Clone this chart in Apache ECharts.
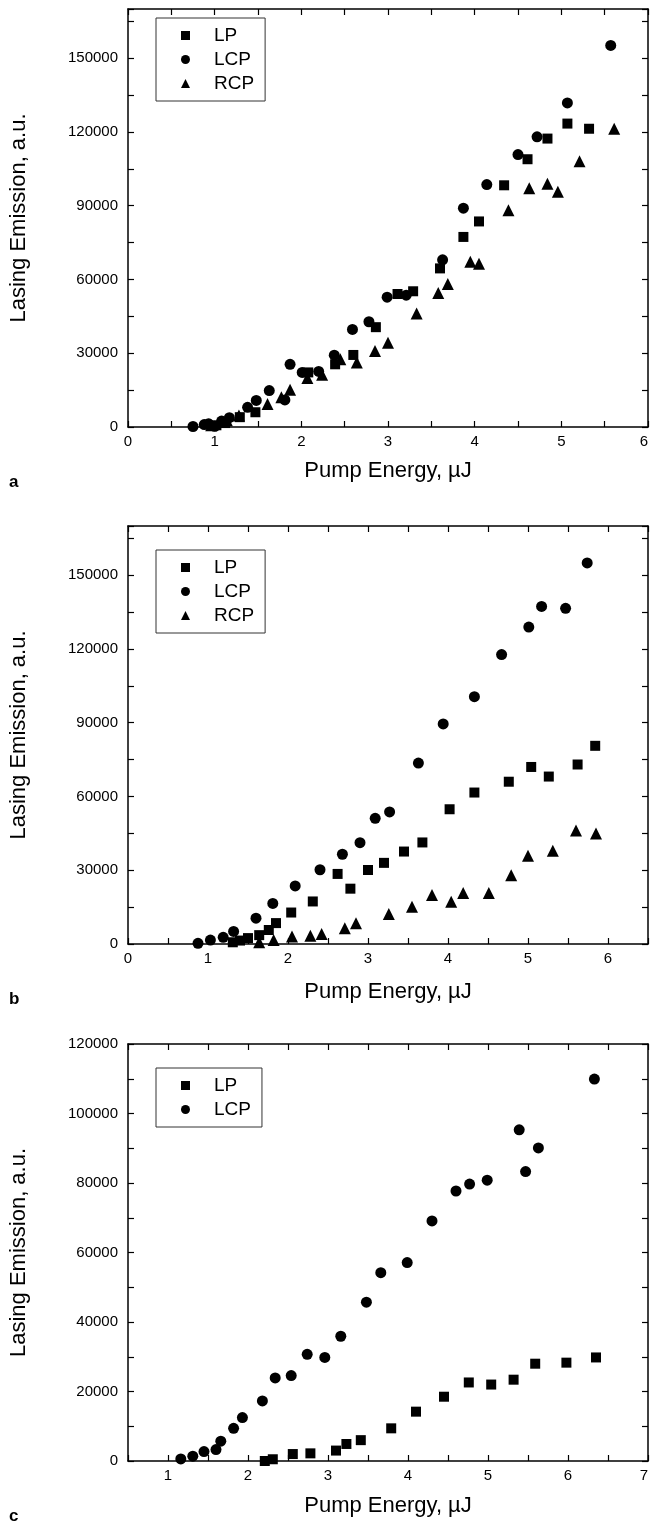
<!DOCTYPE html>
<html><head><meta charset="utf-8">
<script src="https://cdn.jsdelivr.net/npm/echarts@6/dist/echarts.min.js"></script>
<style>html,body{margin:0;padding:0;background:#fff}#c{width:651px;height:1524px}</style>
</head><body><div id="c"></div>
<script>
// ---- data (x = pump energy µJ, y = lasing emission a.u.) ----
const aLP = [[1.02,700],[1.12,1600],[1.29,4000],[1.47,6000],[2.08,22200],[2.39,25500],[2.60,29300],[2.86,40600],[3.11,54100],[3.29,55200],[3.60,64500],[3.87,77300],[4.05,83600],[4.34,98300],[4.61,108900],[4.84,117300],[5.07,123400],[5.32,121300]];
const aLCP = [[0.75,200],[0.88,1000],[0.93,1300],[1.00,300],[1.08,2400],[1.17,3800],[1.38,8000],[1.48,10800],[1.63,14800],[1.81,11000],[1.87,25500],[2.01,22200],[2.20,22600],[2.38,29200],[2.59,39700],[2.78,42800],[2.99,52800],[3.21,53600],[3.63,68000],[3.87,89000],[4.14,98600],[4.50,110800],[4.72,118000],[5.07,131800],[5.57,155200]];
const aRCP = [[0.96,700],[1.14,2700],[1.28,4700],[1.61,9400],[1.77,12100],[1.87,15100],[2.07,19900],[2.24,21200],[2.45,27600],[2.64,26200],[2.85,30900],[3.00,34300],[3.33,46200],[3.58,54500],[3.69,58200],[3.95,67200],[4.05,66400],[4.39,88200],[4.63,97100],[4.84,98900],[4.96,95700],[5.21,108100],[5.61,121300]];

const bLP = [[1.31,700],[1.40,1400],[1.50,2400],[1.64,3600],[1.76,5700],[1.85,8500],[2.04,12800],[2.31,17300],[2.62,28500],[2.78,22500],[3.00,30100],[3.20,33000],[3.45,37600],[3.68,41300],[4.02,54800],[4.33,61600],[4.76,66000],[5.04,72000],[5.26,68100],[5.62,73000],[5.84,80600]];
const bLCP = [[0.875,270],[1.03,1600],[1.19,2700],[1.32,5100],[1.60,10500],[1.81,16500],[2.09,23600],[2.40,30200],[2.68,36500],[2.90,41200],[3.09,51100],[3.27,53700],[3.63,73600],[3.94,89500],[4.33,100600],[4.67,117700],[5.01,128900],[5.17,137300],[5.47,136500],[5.74,155000]];
const bRCP = [[1.64,700],[1.82,1600],[2.05,3000],[2.28,3400],[2.42,4100],[2.71,6400],[2.85,8400],[3.26,12200],[3.55,15100],[3.80,19900],[4.04,17200],[4.19,20700],[4.51,20700],[4.79,28000],[5.00,35900],[5.31,37900],[5.60,46200],[5.85,44900]];

const cLP = [[2.21,0],[2.31,500],[2.56,2000],[2.78,2200],[3.10,3000],[3.23,4900],[3.41,6000],[3.79,9400],[4.10,14200],[4.45,18500],[4.76,22600],[5.04,22000],[5.32,23400],[5.59,28000],[5.98,28300],[6.35,29800]];
const cLCP = [[1.16,600],[1.31,1400],[1.45,2700],[1.60,3300],[1.66,5700],[1.82,9400],[1.93,12500],[2.18,17300],[2.34,23900],[2.54,24600],[2.74,30700],[2.96,29800],[3.16,35900],[3.48,45700],[3.66,54200],[3.99,57100],[4.30,69100],[4.60,77700],[4.77,79700],[4.99,80800],[5.39,95300],[5.47,83300],[5.63,90100],[6.33,109900]];

const panelLetters = ['a','b','c'];
const xTitle = 'Pump Energy, \u00b5J';
const yTitle = 'Lasing Emission, a.u.';
const seriesNames = ['LP','LCP','RCP'];
// axis ranges / ticks per panel: [min, max, tick step, label step]
const xRanges = [[0,6,0.5,1],[0,6.5,0.5,1],[0.5,7,0.5,1]];
const yRanges = [[0,170000,15000,30000],[0,170000,15000,30000],[0,120000,10000,20000]];

const FONT = '"Liberation Sans", Arial, Helvetica, sans-serif';
const symbols = {LP:'rect', LCP:'circle', RCP:'triangle'};
const symSize = {LP:10, LCP:11, RCP:12};

const grids = [
  {left:128, width:521, top:9, height:418},
  {left:128, width:521, top:526, height:418},
  {left:128, width:521, top:1044, height:417}
];
const legendTop = [18, 550, 1068];
const xNameGap = [33, 37, 34];

const xAxes = [], yAxes = [], series = [], legends = [], titles = [];
const isMult = (v, m) => Math.abs(v/m - Math.round(v/m)) < 1e-6;
const axisLine = {onZero:false, lineStyle:{color:'#000', width:1.5}};
const tick = {inside:true, length:6, lineStyle:{color:'#000',width:1.2}};

grids.forEach((g, i) => {
  const [xmin,xmax,xint,xlab] = xRanges[i];
  const [ymin,ymax,yint,ylab] = yRanges[i];
  xAxes.push({gridIndex:i, type:'value', position:'bottom', min:xmin, max:xmax, interval:xint,
    axisLine, axisTick:tick, splitLine:{show:false},
    axisLabel:{color:'#000', fontSize:15, fontFamily:FONT, margin:7, alignMaxLabel: i===1?null:'right',
      formatter:v => isMult(v,xlab) ? String(Math.round(v)) : ''},
    name:xTitle, nameLocation:'middle', nameGap:xNameGap[i],
    nameTextStyle:{color:'#000', fontSize:22, fontFamily:FONT}
  });
  xAxes.push({gridIndex:i, type:'value', position:'top', min:xmin, max:xmax, interval:xint,
    axisLine, axisTick:tick, splitLine:{show:false}, axisLabel:{show:false}});
  yAxes.push({gridIndex:i, type:'value', position:'left', min:ymin, max:ymax, interval:yint,
    axisLine, axisTick:tick, splitLine:{show:false},
    axisLabel:{color:'#000', fontSize:15, fontFamily:FONT, margin:10,
      formatter:v => isMult(v,ylab) ? String(v) : ''},
    name:yTitle, nameLocation:'middle', nameRotate:90, nameGap:98,
    nameTextStyle:{color:'#000', fontSize:22, fontFamily:FONT}
  });
  yAxes.push({gridIndex:i, type:'value', position:'right', min:ymin, max:ymax, interval:yint,
    axisLine, axisTick:tick, splitLine:{show:false}, axisLabel:{show:false}});
  titles.push({text:panelLetters[i], left:4, top:g.top + g.height + 42,
    textStyle:{color:'#000', fontSize:17, fontWeight:'bold', fontFamily:FONT}});
});

const panelData = [
  {LP:aLP, LCP:aLCP, RCP:aRCP},
  {LP:bLP, LCP:bLCP, RCP:bRCP},
  {LP:cLP, LCP:cLCP}
];

panelData.forEach((pd, i) => {
  const names = seriesNames.filter(n => pd[n]);
  names.forEach(n => {
    series.push({type:'scatter', name:n, xAxisIndex:i*2, yAxisIndex:i*2,
      data:pd[n], symbol:symbols[n], symbolSize:symSize[n],
      itemStyle:{color:'#000', opacity:1}, emphasis:{disabled:true}, clip:false});
  });
  legends.push({
    orient:'vertical', left:156, top:legendTop[i],
    data: names.map(n => ({name:n, icon:symbols[n]})),
    itemWidth:9, itemHeight:9, itemGap:5,
    padding:[8, 11, 8, 25],
    borderColor:'#333', borderWidth:1, backgroundColor:'#fff',
    selectedMode:false,
    textStyle:{color:'#000', fontSize:19, fontFamily:FONT, padding:[0,0,0,19]}
  });
});

const chart = echarts.init(document.getElementById('c'), null, {renderer:'canvas'});
chart.setOption({
  animation:false,
  backgroundColor:'#fff',
  title:titles,
  grid:grids,
  xAxis:xAxes,
  yAxis:yAxes,
  legend:legends,
  series:series
});
</script></body></html>
